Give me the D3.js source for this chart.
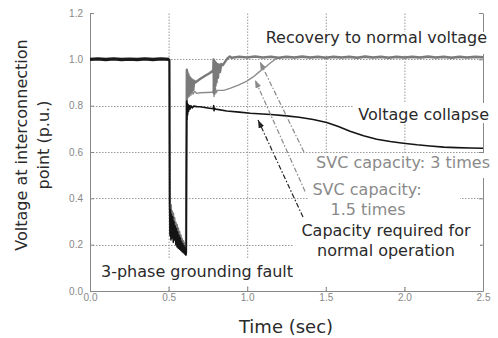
<!DOCTYPE html>
<html>
<head>
<meta charset="utf-8">
<script src="https://cdn.jsdelivr.net/npm/d3@7"></script>
<style>
  body { margin: 0; background: #fff; }
  svg { display: block; }
  text { font-family: "DejaVu Sans", Verdana, sans-serif; }
</style>
</head>
<body>
<svg id="chart" width="498" height="338"></svg>
<script>
// axis ticks
const xTicks = [0, 0.5, 1.0, 1.5, 2.0, 2.5];
const yTicks = [0, 0.2, 0.4, 0.6, 0.8, 1.0, 1.2];
const xGrid = [0.5, 1.0, 1.5, 2.0];
const yGrid = [0.2, 0.4, 0.6, 0.8, 1.0];

// shared pre-fault trace [time, voltage]
const preFault = [[0,1.0],[0.05,1.002],[0.1,0.999],[0.15,1.002],[0.2,0.999],[0.25,1.001],
  [0.3,0.999],[0.35,1.002],[0.4,0.999],[0.45,1.002],[0.505,1.0]];

// during the 3-phase fault
const faultBlack = [[0.505,1.0],[0.507,0.37],[0.509,0.24],[0.512,0.35],[0.515,0.22],[0.518,0.33],[0.522,0.23],
  [0.526,0.32],[0.53,0.21],[0.534,0.30],[0.538,0.22],[0.542,0.28],[0.546,0.2],[0.55,0.27],
  [0.554,0.19],[0.558,0.255],[0.562,0.185],[0.566,0.24],[0.57,0.18],[0.574,0.23],[0.578,0.175],
  [0.582,0.215],[0.586,0.17],[0.59,0.205],[0.594,0.165],[0.598,0.195],[0.602,0.16],[0.606,0.185],
  [0.61,0.155],[0.612,0.16]];
const faultGray = [[0.505,1.0],[0.508,0.38],[0.511,0.25],[0.514,0.37],[0.517,0.23],[0.52,0.345],[0.524,0.24],
  [0.528,0.335],[0.532,0.225],[0.536,0.315],[0.54,0.23],[0.544,0.295],[0.548,0.215],[0.552,0.285],
  [0.556,0.2],[0.56,0.27],[0.564,0.195],[0.568,0.255],[0.572,0.19],[0.576,0.24],[0.58,0.185],
  [0.584,0.225],[0.588,0.18],[0.592,0.215],[0.596,0.175],[0.6,0.205],[0.604,0.17],[0.608,0.19],
  [0.611,0.165]];

// SVC capacity required for normal operation (black, collapses)
const requiredCap = [[0.613,0.5],[0.615,0.82],[0.617,0.74],[0.619,0.81],[0.621,0.76],[0.624,0.805],
  [0.627,0.775],[0.631,0.8],[0.636,0.785],[0.642,0.8],[0.65,0.79],[0.66,0.798],[0.68,0.796],
  [0.7,0.795],[0.75,0.79],[0.784,0.787],[0.787,0.8],[0.789,0.778],[0.792,0.789],[0.8,0.785],
  [0.87,0.777],[0.95,0.772],[1.02,0.767],[1.15,0.762],[1.25,0.756],[1.33,0.75],[1.42,0.74],
  [1.506,0.727],[1.58,0.71],[1.654,0.69],[1.74,0.67],[1.824,0.655],[1.91,0.645],[1.993,0.638],
  [2.08,0.631],[2.163,0.626],[2.25,0.621],[2.33,0.619],[2.42,0.617],[2.5,0.616]];

// SVC capacity 1.5 times (slow recovery)
const svc15 = [[0.614,0.6],[0.616,0.93],[0.618,0.83],[0.621,0.915],[0.624,0.835],[0.628,0.9],
  [0.632,0.84],[0.637,0.885],[0.642,0.845],[0.648,0.87],[0.655,0.85],[0.665,0.862],[0.68,0.853],
  [0.7,0.856],[0.74,0.857],[0.78,0.858],[0.785,0.86],[0.787,0.905],[0.789,0.84],[0.791,0.89],
  [0.794,0.848],[0.798,0.875],[0.803,0.856],[0.81,0.866],[0.85,0.866],[0.89,0.875],[0.94,0.888],
  [0.995,0.905],[1.04,0.925],[1.08,0.948],[1.115,0.966],[1.145,0.983],[1.17,0.996],[1.19,1.006],
  [1.22,1.008],[2.5,1.008]];

// SVC capacity 3 times (fast recovery)
const svc3 = [[0.614,0.6],[0.616,0.955],[0.618,0.84],[0.62,0.945],[0.623,0.845],[0.626,0.935],
  [0.629,0.85],[0.633,0.925],[0.637,0.855],[0.641,0.918],[0.646,0.86],[0.651,0.912],[0.657,0.868],
  [0.663,0.908],[0.67,0.9],[0.7,0.915],[0.73,0.928],[0.76,0.94],[0.784,0.952],[0.786,1.0],
  [0.788,0.855],[0.79,0.995],[0.792,0.87],[0.795,0.99],[0.798,0.885],[0.801,0.985],[0.805,0.9],
  [0.809,0.98],[0.814,0.92],[0.82,0.978],[0.827,0.945],[0.835,0.98],[0.845,0.975],[0.86,0.99],
  [0.875,1.005],[0.89,1.012],[0.9,1.007],[0.95,1.011],[1.0,1.008],[1.05,1.012],[1.1,1.008],
  [1.15,1.011],[1.2,1.007],[1.25,1.011],[1.3,1.008],[1.35,1.012],[1.4,1.008],[1.45,1.011],
  [1.5,1.007],[1.55,1.011],[1.6,1.008],[1.65,1.011],[1.7,1.007],[1.75,1.012],[1.8,1.008],
  [1.85,1.011],[1.9,1.007],[1.95,1.011],[2.0,1.008],[2.05,1.011],[2.1,1.008],[2.15,1.012],
  [2.2,1.008],[2.25,1.011],[2.3,1.007],[2.35,1.011],[2.4,1.008],[2.45,1.011],[2.5,1.009]];

// annotation arrows: [tail, head] in data units
const arrows = [
  { from: [1.361, 0.60], to: [1.081, 0.99], color: "#8a8a8a" },
  { from: [1.368, 0.43], to: [1.05, 0.911], color: "#8a8a8a" },
  { from: [1.355, 0.319], to: [1.069, 0.738], color: "#222" }
];

const svg = d3.select("#chart");
const x = d3.scaleLinear().domain([0, 2.5]).range([90, 483]);
const y = d3.scaleLinear().domain([0, 1.2]).range([291, 13]);

// grid
const grid = svg.append("g")
  .attr("stroke", "#999")
  .attr("stroke-width", 1)
  .attr("stroke-dasharray", "1.5,1.5");
grid.selectAll(".vg").data(xGrid).enter().append("line")
  .attr("x1", d => x(d) + 0.5).attr("x2", d => x(d) + 0.5)
  .attr("y1", y(0)).attr("y2", y(1.2));
grid.selectAll(".hg").data(yGrid).enter().append("line")
  .attr("x1", x(0)).attr("x2", x(2.5))
  .attr("y1", d => Math.round(y(d)) + 0.5).attr("y2", d => Math.round(y(d)) + 0.5);

// axes
function styleAxis(g) {
  g.select(".domain").attr("stroke", "#888");
  g.selectAll(".tick line").attr("stroke", "#888");
  g.selectAll("text")
    .attr("fill", "#888")
    .style("font-family", "'Liberation Sans', Arial, sans-serif")
    .style("font-size", "10px");
}
svg.append("g")
  .attr("transform", `translate(${x(0)},0)`)
  .call(d3.axisLeft(y).tickValues(yTicks).tickFormat(d3.format(".1f"))
    .tickSizeInner(-4).tickSizeOuter(0).tickPadding(7))
  .call(styleAxis);
svg.append("g")
  .attr("transform", `translate(0,${y(0)})`)
  .call(d3.axisBottom(x).tickValues(xTicks).tickFormat(d3.format(".1f"))
    .tickSizeInner(-4).tickSizeOuter(0).tickPadding(3))
  .call(styleAxis);
svg.append("g")
  .attr("transform", `translate(${x(2.5)},0)`)
  .call(d3.axisRight(y).tickValues(yTicks).tickFormat("")
    .tickSizeInner(-4).tickSizeOuter(0))
  .call(styleAxis);

// white label boxes that mask the grid
const boxes = [
  [258, 32, 236, 22], [354, 103, 140, 20], [305, 153, 190, 25],
  [308, 178, 152, 43], [294, 221, 186, 66], [96, 258, 204, 28]
];
svg.append("g").selectAll("rect").data(boxes).enter().append("rect")
  .attr("x", d => d[0]).attr("y", d => d[1])
  .attr("width", d => d[2]).attr("height", d => d[3])
  .attr("fill", "#fff");

// curves
const line = d3.line().x(d => x(d[0])).y(d => y(d[1]));
const series = [
  { data: faultGray.concat(svc15), color: "#8c8c8c", width: 1.4 },
  { data: faultGray.concat(svc3), color: "#7a7a7a", width: 2.4 },
  { data: preFault, color: "#1a1a1a", width: 3.4 },
  { data: faultBlack.concat(requiredCap), color: "#141414", width: 1.6 }
];
svg.append("g").selectAll("path").data(series).enter().append("path")
  .attr("d", d => line(d.data))
  .attr("fill", "none")
  .attr("stroke", d => d.color)
  .attr("stroke-width", d => d.width)
  .attr("stroke-linejoin", "round");

// arrows
const defs = svg.append("defs");
arrows.forEach((a, i) => {
  defs.append("marker")
    .attr("id", "ah" + i)
    .attr("viewBox", "0 0 8 6")
    .attr("refX", 8).attr("refY", 3)
    .attr("markerWidth", 8).attr("markerHeight", 6)
    .attr("markerUnits", "userSpaceOnUse")
    .attr("orient", "auto")
    .append("path").attr("d", "M0,0L8,3L0,6Z").attr("fill", a.color);
});
svg.append("g").selectAll("line").data(arrows).enter().append("line")
  .attr("x1", d => x(d.from[0])).attr("y1", d => y(d.from[1]))
  .attr("x2", d => x(d.to[0])).attr("y2", d => y(d.to[1]))
  .attr("stroke", d => d.color)
  .attr("stroke-width", 1.2)
  .attr("stroke-dasharray", "5,2,1.5,2")
  .attr("marker-end", (d, i) => `url(#ah${i})`);

// annotation text
const labels = [
  { t: "Recovery to normal voltage", x: 487, y: 43, a: "end", c: "#2a2a2a" },
  { t: "Voltage collapse", x: 489, y: 120, a: "end", c: "#2a2a2a" },
  { t: "SVC capacity: 3 times", x: 490, y: 168, a: "end", c: "#8a8a8a" },
  { t: "SVC capacity:", x: 367, y: 195, a: "middle", c: "#8a8a8a" },
  { t: "1.5 times", x: 368, y: 215, a: "middle", c: "#8a8a8a" },
  { t: "Capacity required for", x: 386, y: 236, a: "middle", c: "#2a2a2a" },
  { t: "normal operation", x: 386, y: 256, a: "middle", c: "#2a2a2a" },
  { t: "3-phase grounding fault", x: 101, y: 277, a: "start", c: "#2a2a2a" }
];
svg.append("g").selectAll("text").data(labels).enter().append("text")
  .attr("x", d => d.x).attr("y", d => d.y)
  .attr("text-anchor", d => d.a)
  .attr("fill", d => d.c)
  .style("font-size", "16px")
  .text(d => d.t);

// axis titles
const yTitle = svg.append("text")
  .attr("transform", "translate(27,145) rotate(-90)")
  .attr("text-anchor", "middle")
  .attr("fill", "#2a2a2a")
  .style("font-size", "16px");
yTitle.append("tspan").attr("x", 0).attr("y", 0).text("Voltage at interconnection");
yTitle.append("tspan").attr("x", 0).attr("y", 22).text("point (p.u.)");

svg.append("text")
  .attr("x", 286).attr("y", 333)
  .attr("text-anchor", "middle")
  .attr("fill", "#2a2a2a")
  .style("font-size", "18px")
  .text("Time (sec)");
</script>
</body>
</html>
